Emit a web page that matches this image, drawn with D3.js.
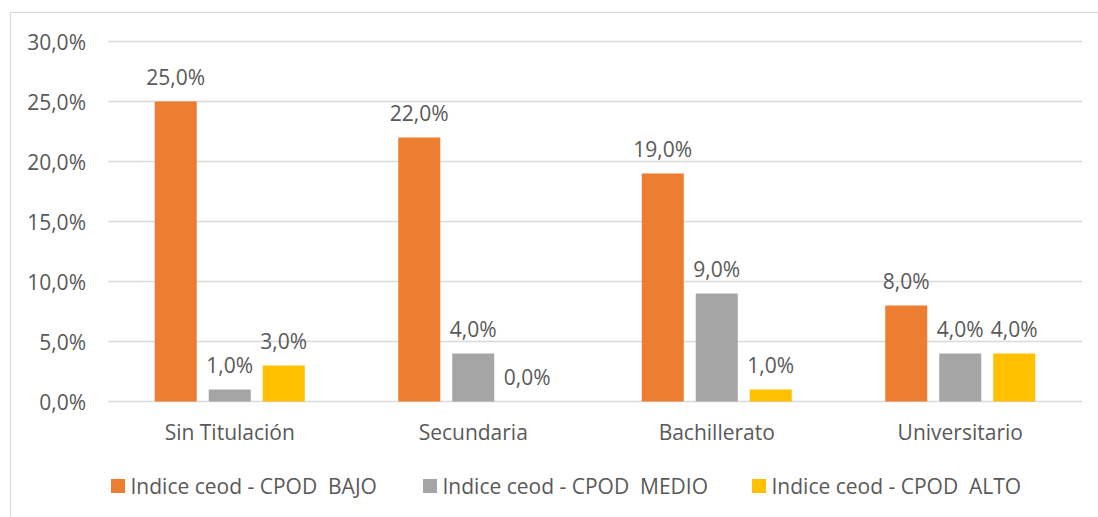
<!DOCTYPE html>
<html><head><meta charset="utf-8">
<script src="https://cdn.jsdelivr.net/npm/d3@7"></script>
<style>body{margin:0;background:#fff}svg{display:block}text{font-family:"Open Sans",sans-serif;fill:#595959}</style>
</head><body><div id="chart"></div>
<script>
const categories = ["Sin Titulación","Secundaria","Bachillerato","Universitario"];
const seriesNames = ["Indice ceod - CPOD  BAJO","Indice ceod - CPOD  MEDIO","Indice ceod - CPOD  ALTO"];
const bajo = [25,22,19,8];
const medio = [1,4,9,4];
const alto = [3,0,1,4];
const yTicks = [0,5,10,15,20,25,30];
const colors = ["#ED7D31","#A5A5A5","#FFC000"];
const seriesValues = [bajo, medio, alto];

const W=1098,H=517,FS=21;
const svg=d3.select("#chart").append("svg").attr("width",W).attr("height",H);
svg.append("rect").attr("x",10.5).attr("y",12.5).attr("width",1100).attr("height",520).attr("fill","none").attr("stroke","#D9D9D9");

const x=d3.scaleBand().domain(categories).range([108,1082]).padding(0);
const inner=d3.scaleBand().domain(seriesNames).range([-75,75]).paddingInner(0.222).paddingOuter(0);
const y=d3.scaleLinear().domain([0,30]).range([401.5,41.5]);
const fmt=v=>v.toFixed(1).replace(".",",")+"%";

svg.append("g").selectAll("line").data(yTicks).join("line")
 .attr("x1",108).attr("x2",1082).attr("y1",d=>y(d)).attr("y2",d=>y(d))
 .attr("stroke","#D9D9D9").attr("stroke-width",1.3);
svg.append("g").selectAll("text").data(yTicks).join("text")
 .attr("x",86).attr("y",d=>y(d)+8).attr("text-anchor","end").attr("font-size",FS).text(fmt);

seriesNames.forEach((s,si)=>{
  const g=svg.append("g");
  const data=categories.map((c,i)=>({c,v:seriesValues[si][i]}));
  g.selectAll("rect").data(data).join("rect")
   .attr("x",d=>x(d.c)+x.bandwidth()/2+inner(s))
   .attr("width",inner.bandwidth())
   .attr("y",d=>y(d.v)).attr("height",d=>y(0)-y(d.v)).attr("fill",colors[si]);
  g.selectAll("text").data(data).join("text")
   .attr("x",d=>x(d.c)+x.bandwidth()/2+inner(s)+inner.bandwidth()/2)
   .attr("y",d=>y(d.v)-17).attr("text-anchor","middle").attr("font-size",FS).text(d=>fmt(d.v));
});

svg.append("g").selectAll("text").data(categories).join("text")
 .attr("x",d=>x(d)+x.bandwidth()/2).attr("y",440).attr("text-anchor","middle").attr("font-size",FS).text(d=>d);

const legX=[111,423,752];
const lg=svg.append("g").selectAll("g").data(seriesNames).join("g").attr("transform",(d,i)=>`translate(${legX[i]},479)`);
lg.append("rect").attr("width",14).attr("height",14).attr("fill",(d,i)=>colors[i]);
lg.append("text").attr("x",19.5).attr("y",14.5).attr("font-size",FS).attr("xml:space","preserve").style("white-space","pre").text(d=>d);
</script></body></html>
